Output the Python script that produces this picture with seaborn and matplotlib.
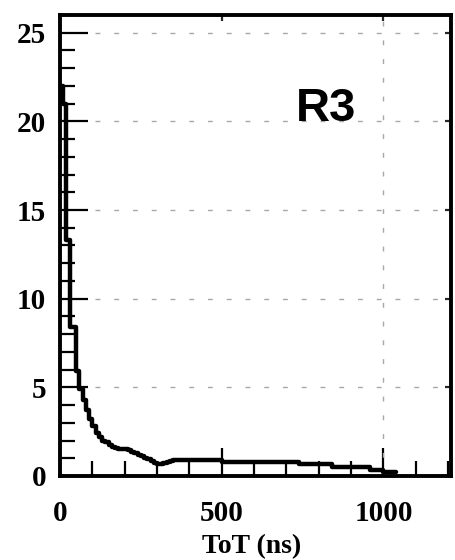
import numpy as np
import pandas as pd
import matplotlib
matplotlib.use("Agg")
import matplotlib.pyplot as plt
import seaborn as sns
from matplotlib.ticker import MultipleLocator, FixedLocator

# ---- data ----
bin_edges = [0, 10, 20, 30, 40, 50, 60, 70, 80, 90, 100,
             110, 120, 130, 140, 150, 160, 170, 180, 190, 200,
             210, 220, 230, 240, 250, 260, 270, 280, 290, 300,
             310, 320, 330, 340, 350, 500, 740, 840, 960, 1000, 1040]
counts = [22.0, 21.0, 13.3, 8.4, 8.4, 5.9, 4.9, 4.3, 3.7, 3.2,
          2.8, 2.4, 2.2, 2.0, 1.9, 1.75, 1.65, 1.6, 1.55, 1.5,
          1.5, 1.45, 1.35, 1.3, 1.2, 1.1, 1.0, 0.95, 0.85, 0.75,
          0.7, 0.7, 0.75, 0.8, 0.85, 0.9, 0.8, 0.7, 0.5, 0.35, 0.2]
x_ticks = [0, 500, 1000]
y_ticks = [0, 5, 10, 15, 20, 25]
x_label = "ToT (ns)"
panel_label = "R3"

centers = [(a + b) / 2 for a, b in zip(bin_edges[:-1], bin_edges[1:])]
df = pd.DataFrame({"tot": centers, "w": counts})

sns.set_theme(style="white")
plt.rcParams["font.family"] = ["Liberation Serif", "DejaVu Serif"]
plt.rcParams["text.color"] = "black"
plt.rcParams["axes.labelcolor"] = "black"

fig = plt.figure(figsize=(4.55, 5.60), dpi=100)
ax = fig.add_axes([60 / 455, 84 / 560, 391 / 455, 461 / 560])

sns.histplot(data=df, x="tot", weights="w", bins=bin_edges, element="step",
             fill=False, color="black", linewidth=3.2, ax=ax, zorder=3)

ax.set_xlim(0, 1209)
ax.set_ylim(0, 26.0)

# grid
for yv in y_ticks[1:]:
    ax.axhline(yv, xmin=0.09, color="#a8a8a8", lw=1.0, ls=(0, (3.5, 10)), zorder=1)
ax.axvline(1000, color="#a8a8a8", lw=1.0, ls=(0, (3.5, 10)), zorder=1)

# ticks
ax.xaxis.set_major_locator(FixedLocator(x_ticks))
ax.yaxis.set_major_locator(FixedLocator(y_ticks))
ax.xaxis.set_minor_locator(MultipleLocator(100))
ax.yaxis.set_minor_locator(MultipleLocator(1))
ax.tick_params(axis="both", which="both", bottom=True, left=True,
               top=False, right=False)
ax.tick_params(axis="both", which="major", direction="in", length=20, width=1.6,
               color="black", labelsize=21, labelcolor="black")
ax.tick_params(axis="both", which="minor", direction="in", length=11, width=1.6,
               color="black")
ax.tick_params(axis="x", which="major", pad=17)
ax.tick_params(axis="y", which="major", pad=10)

# small ticks on right and top
ax_r = ax.secondary_yaxis("right")
ax_r.yaxis.set_major_locator(FixedLocator(y_ticks))
ax_r.tick_params(direction="in", length=4, width=1.6, right=True, labelright=False)
ax_r.spines["right"].set_visible(False)
ax_t = ax.secondary_xaxis("top")
ax_t.xaxis.set_major_locator(FixedLocator(x_ticks))
ax_t.tick_params(direction="in", length=4, width=1.6, top=True, labeltop=False)
ax_t.spines["top"].set_visible(False)

for lbl in ax.get_xticklabels() + ax.get_yticklabels():
    lbl.set_fontweight("bold")

for s in ax.spines.values():
    s.set_visible(True)
    s.set_color("black")
    s.set_linewidth(2.8)

ax.set_xlabel(x_label, fontsize=20, fontweight="bold", color="black")
ax.xaxis.set_label_coords(0.491, -0.154)
ax.xaxis.label.set_va("center")
ax.set_ylabel("")

ax.text(823, 20.7, panel_label, fontsize=34, fontweight="bold", color="black",
        family=["Liberation Sans", "DejaVu Sans"], ha="center", va="center")

fig.savefig("out.png", dpi=100)
